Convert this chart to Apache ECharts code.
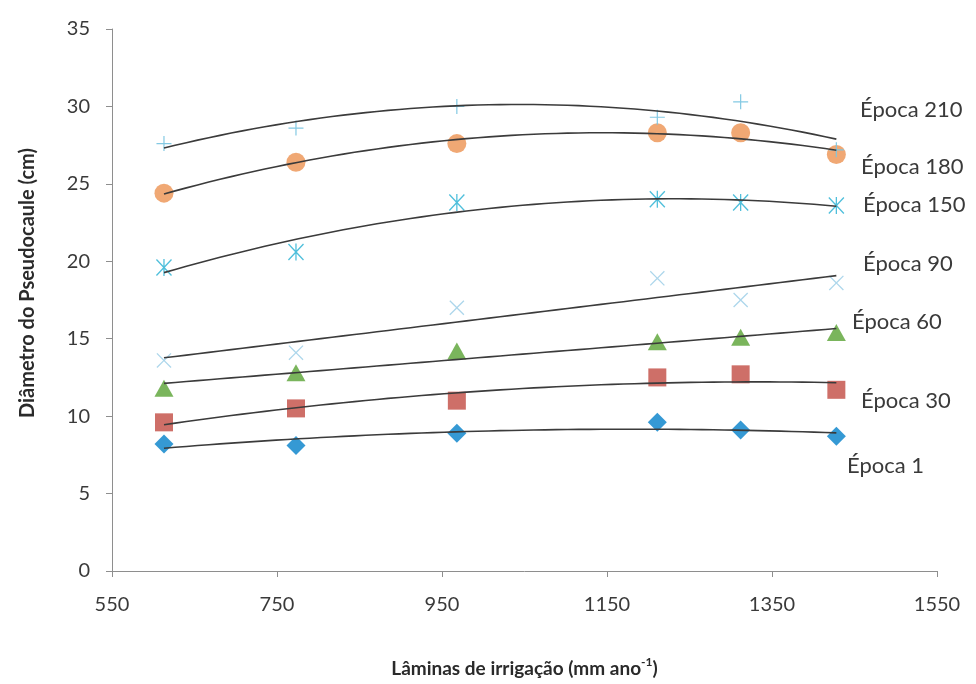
<!DOCTYPE html>
<html>
<head>
<meta charset="utf-8">
<script src="https://cdn.jsdelivr.net/npm/echarts@6/dist/echarts.min.js"></script>
<style>
  html, body { margin: 0; padding: 0; background: #ffffff; }
  #chart { width: 976px; height: 684px; }
</style>
</head>
<body>
<div id="chart"></div>
<script>
// Irrigation depths (mm/year) and pseudostem diameter (cm) per sampling time
const irrigation = [613, 773, 968, 1211, 1312, 1428];
const epoca1   = [8.2, 8.1, 8.9, 9.6, 9.1, 8.7];
const epoca30  = [9.6, 10.5, 11.0, 12.5, 12.7, 11.7];
const epoca60  = [11.8, 12.8, 14.2, 14.8, 15.1, 15.4];
const epoca90  = [13.6, 14.1, 17.0, 18.9, 17.5, 18.6];
const epoca150 = [19.6, 20.6, 23.8, 24.0, 23.8, 23.6];
const epoca180 = [24.4, 26.4, 27.6, 28.3, 28.3, 26.9];
const epoca210 = [27.6, 28.6, 30.0, 29.3, 30.3, 27.2];

const xTicks = [550, 750, 950, 1150, 1350, 1550];
const seriesNames = ['Época 1', 'Época 30', 'Época 60', 'Época 90', 'Época 150', 'Época 180', 'Época 210'];

// Marker shapes
const PLUS = 'path://M4.6 0H5.4V4.6H10V5.4H5.4V10H4.6V5.4H0V4.6H4.6Z';
const CROSS = 'path://M0 0.6L0.6 0L5 4.4L9.4 0L10 0.6L5.6 5L10 9.4L9.4 10L5 5.6L0.6 10L0 9.4L4.4 5Z';
const STAR = 'path://M0 0.6L0.6 0L5 4.4L9.4 0L10 0.6L5.6 5L10 9.4L9.4 10L5 5.6L0.6 10L0 9.4L4.4 5Z M4.6 0H5.4V10H4.6Z';

const groups = [
  { name: seriesNames[0], values: epoca1,   degree: 2, symbol: 'diamond',  size: [19, 19], color: '#2a93d2' },
  { name: seriesNames[1], values: epoca30,  degree: 2, symbol: 'rect',     size: [18, 18], color: '#cb6760' },
  { name: seriesNames[2], values: epoca60,  degree: 1, symbol: 'triangle', size: [19, 17], color: '#73b153' },
  { name: seriesNames[3], values: epoca90,  degree: 1, symbol: CROSS,      size: [15, 15], color: '#a8d4ea' },
  { name: seriesNames[4], values: epoca150, degree: 2, symbol: STAR,       size: [16, 17], color: '#46bcd9' },
  { name: seriesNames[5], values: epoca180, degree: 2, symbol: 'circle',   size: [19, 19], color: '#efa36d' },
  { name: seriesNames[6], values: epoca210, degree: 2, symbol: PLUS,       size: [15, 15], color: '#7cc6e2' }
];

// Least-squares polynomial trendline (degree 1 or 2)
function fitPoly(xs, ys, degree) {
  const n = degree + 1;
  const s = xs.map(x => x / 1000);
  const A = [];
  for (let r = 0; r < n; r++) {
    A.push([]);
    for (let c = 0; c < n; c++) {
      let sum = 0;
      s.forEach(x => { sum += Math.pow(x, r + c); });
      A[r].push(sum);
    }
    let rhs = 0;
    s.forEach((x, i) => { rhs += Math.pow(x, r) * ys[i]; });
    A[r].push(rhs);
  }
  for (let i = 0; i < n; i++) {
    let p = i;
    for (let k = i + 1; k < n; k++) if (Math.abs(A[k][i]) > Math.abs(A[p][i])) p = k;
    [A[i], A[p]] = [A[p], A[i]];
    for (let k = i + 1; k < n; k++) {
      const f = A[k][i] / A[i][i];
      for (let c = i; c <= n; c++) A[k][c] -= f * A[i][c];
    }
  }
  const coef = new Array(n).fill(0);
  for (let i = n - 1; i >= 0; i--) {
    let v = A[i][n];
    for (let c = i + 1; c < n; c++) v -= A[i][c] * coef[c];
    coef[i] = v / A[i][i];
  }
  return x => coef.reduce((acc, a, k) => acc + a * Math.pow(x / 1000, k), 0);
}

function trendPoints(xs, ys, degree) {
  const f = fitPoly(xs, ys, degree);
  const lo = Math.min(...xs), hi = Math.max(...xs);
  const pts = [];
  const steps = 60;
  for (let i = 0; i <= steps; i++) {
    const x = lo + (hi - lo) * i / steps;
    pts.push([x, f(x)]);
  }
  return pts;
}

const series = [];
groups.forEach(g => {
  series.push({
    name: g.name,
    type: 'scatter',
    symbol: g.symbol,
    symbolSize: g.size,
    itemStyle: { color: g.color, opacity: 0.95 },
    data: irrigation.map((x, i) => [x, g.values[i]]),
    z: 2
  });
});
groups.forEach(g => {
  series.push({
    name: g.name + ' (tendência)',
    type: 'line',
    showSymbol: false,
    smooth: false,
    lineStyle: { color: '#3b3b3b', width: 1.6 },
    data: trendPoints(irrigation, g.values, g.degree),
    z: 3,
    silent: true
  });
});

const labelFont = 'Lato, "Noto Sans", sans-serif';
const curveLabels = [
  { text: 'Época 210', x: 860, y: 110 },
  { text: 'Época 180', x: 861, y: 167 },
  { text: 'Época 150', x: 863, y: 205 },
  { text: 'Época 90',  x: 863, y: 264 },
  { text: 'Época 60',  x: 852, y: 322 },
  { text: 'Época 30',  x: 861, y: 401 },
  { text: 'Época 1',   x: 847, y: 466 }
];

const chart = echarts.init(document.getElementById('chart'), null, { renderer: 'canvas' });
chart.setOption({
  backgroundColor: '#ffffff',
  animation: false,
  grid: { left: 112, right: 39, top: 29, bottom: 113, containLabel: false, outerBoundsMode: 'none' },
  xAxis: {
    type: 'value',
    min: 550,
    max: 1550,
    splitLine: { show: false },
    axisLine: { show: true, lineStyle: { color: '#8e8e8e', width: 1 } },
    axisTick: { show: true, length: 6, customValues: xTicks, lineStyle: { color: '#8e8e8e' } },
    axisLabel: {
      customValues: xTicks,
      formatter: v => String(v),
      margin: 24,
      color: '#3a3a3a',
      fontFamily: labelFont,
      fontSize: 20
    },
    name: '{a|Lâminas de irrigação (mm ano}{s|-1}{a|)}',
    nameLocation: 'middle',
    nameGap: 85,
    nameTextStyle: {
      rich: {
        a: { fontFamily: labelFont, fontWeight: 'bold', fontSize: 19, color: '#2a2a2a', lineHeight: 22, verticalAlign: 'bottom' },
        s: { fontFamily: labelFont, fontWeight: 'bold', fontSize: 12, color: '#2a2a2a', lineHeight: 22, verticalAlign: 'top', padding: [0, 0, 8, 0] }
      }
    }
  },
  yAxis: {
    type: 'value',
    min: 0,
    max: 35,
    interval: 5,
    splitLine: { show: false },
    axisLine: { show: true, lineStyle: { color: '#8e8e8e', width: 1 } },
    axisTick: { show: true, length: 6, lineStyle: { color: '#8e8e8e' } },
    axisLabel: {
      formatter: v => String(v),
      margin: 22,
      color: '#3a3a3a',
      fontFamily: labelFont,
      fontSize: 20
    }
  },
  series: series,
  graphic: [
    {
      type: 'text',
      x: 28,
      y: 283,
      rotation: Math.PI / 2,
      style: {
        text: 'Diâmetro do Pseudocaule (cm)',
        font: 'bold 20px ' + labelFont,
        fill: '#2a2a2a',
        align: 'center',
        verticalAlign: 'middle'
      }
    }
  ].concat(curveLabels.map(l => ({
    type: 'text',
    x: l.x,
    y: l.y,
    style: {
      text: l.text,
      font: '22px ' + labelFont,
      fill: '#3a3a3a',
      align: 'left',
      verticalAlign: 'middle'
    }
  })))
});
</script>
</body>
</html>
